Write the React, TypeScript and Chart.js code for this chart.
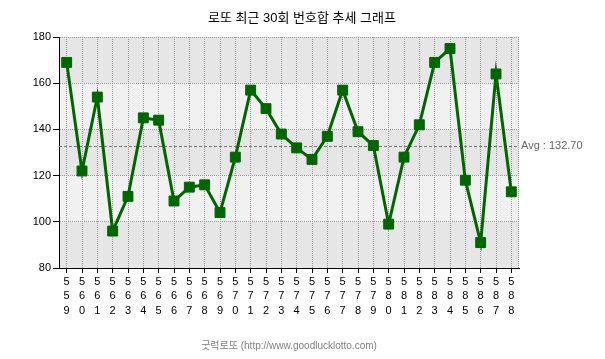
import React, { useEffect, useRef } from 'react';
import { Chart, registerables } from 'chart.js';

Chart.register(...registerables);

const TITLE = '로또 최근 30회 번호합 추세 그래프';
const FOOTER = '굿럭로또 (http://www.goodlucklotto.com)';
const AVG_PREFIX = 'Avg : ';

const rounds = [559, 560, 561, 562, 563, 564, 565, 566, 567, 568, 569, 570, 571, 572, 573, 574, 575, 576, 577, 578, 579, 580, 581, 582, 583, 584, 585, 586, 587, 588];
const sums = [169, 122, 154, 96, 111, 145, 144, 109, 115, 116, 104, 128, 157, 149, 138, 132, 127, 137, 157, 139, 133, 99, 128, 142, 169, 175, 118, 91, 164, 113];

const yMin = 80;
const yMax = 180;
const yStep = 20;

export default function App() {
  const ref = useRef<HTMLCanvasElement>(null);

  useEffect(() => {
    document.body.style.margin = '0';
    const canvas = ref.current;
    if (!canvas) return;
    const font = "'Liberation Sans', 'Noto Sans CJK KR', sans-serif";
    const avg = sums.reduce((a, b) => a + b, 0) / sums.length;
    const labels = rounds.map((r) => String(r).split(''));
    const green = '#006600';

    const deco = {
      id: 'deco',
      beforeDraw(chart: any) {
        const { ctx, chartArea: a, scales } = chart;
        const y = scales.y;
        ctx.save();
        let i = 0;
        for (let v = yMin; v < yMax; v += yStep, i++) {
          const top = y.getPixelForValue(v + yStep);
          const bot = y.getPixelForValue(v);
          ctx.fillStyle = i % 2 === 0 ? '#e6e6e6' : '#f1f1f1';
          ctx.fillRect(a.left, top, a.right - a.left, bot - top);
        }
        ctx.restore();
      },
      beforeDatasetsDraw(chart: any) {
        const { ctx, chartArea: a, scales } = chart;
        const y = scales.y;
        ctx.save();
        ctx.strokeStyle = '#999';
        ctx.lineWidth = 1;
        ctx.setLineDash([1, 1]);
        ctx.beginPath();
        ctx.moveTo(Math.round(a.right) - 0.5, a.top);
        ctx.lineTo(Math.round(a.right) - 0.5, a.bottom);
        ctx.stroke();
        const ay = Math.round(y.getPixelForValue(avg)) + 0.5;
        ctx.strokeStyle = '#777';
        ctx.setLineDash([3, 2]);
        ctx.beginPath();
        ctx.moveTo(a.left, ay);
        ctx.lineTo(a.right, ay);
        ctx.stroke();
        ctx.restore();
      },
      afterDraw(chart: any) {
        const { ctx, chartArea: a, scales } = chart;
        const y = scales.y;
        ctx.save();
        ctx.textBaseline = 'middle';
        ctx.textAlign = 'left';
        ctx.fillStyle = '#666';
        ctx.font = `11px ${font}`;
        ctx.fillText(AVG_PREFIX + avg.toFixed(2), a.right + 2, y.getPixelForValue(avg));
        ctx.textAlign = 'center';
        ctx.fillStyle = '#000';
        ctx.font = `13px ${font}`;
        ctx.fillText(TITLE, 302, 18);
        ctx.fillStyle = '#808080';
        ctx.font = `10px ${font}`;
        ctx.fillText(FOOTER, (a.left + a.right) / 2, 346);
        ctx.restore();
      },
    };

    const chart = new Chart(canvas, {
      type: 'line',
      data: {
        labels,
        datasets: [
          {
            data: sums,
            borderColor: green,
            backgroundColor: green,
            borderWidth: 3,
            tension: 0,
            pointStyle: 'rect',
            pointRadius: 7,
            pointHoverRadius: 7,
            pointBackgroundColor: green,
            pointBorderColor: green,
            pointBorderWidth: 1,
          },
        ],
      },
      options: {
        responsive: false,
        animation: false,
        events: [],
        layout: { padding: { top: 37, right: 86, left: 0, bottom: 0 } },
        plugins: {
          legend: { display: false },
          title: { display: false },
          tooltip: { enabled: false },
        },
        scales: {
          x: {
            type: 'category',
            offset: true,
            afterFit: (s: any) => {
              s.height = 91;
            },
            grid: {
              offset: false,
              color: '#999',
              lineWidth: 1,
              drawTicks: true,
              tickLength: 5,
              tickColor: '#000',
            },
            border: { display: true, color: '#000', width: 1, dash: [1, 1] },
            ticks: {
              color: '#000',
              autoSkip: false,
              maxRotation: 0,
              minRotation: 0,
              padding: 2,
              font: { family: font, size: 11, lineHeight: 1.3 },
            },
          },
          y: {
            min: yMin,
            max: yMax,
            afterFit: (s: any) => {
              s.width = 59;
            },
            grid: {
              color: '#999',
              lineWidth: 1,
              drawTicks: true,
              tickLength: 6,
              tickColor: '#000',
            },
            border: { display: true, color: '#000', width: 1, dash: [1, 1] },
            ticks: {
              stepSize: yStep,
              color: '#000',
              padding: 2,
              font: { family: font, size: 11 },
            },
          },
        },
      },
      plugins: [deco],
    } as any);

    return () => chart.destroy();
  }, []);

  return (
    <div style={{ position: 'absolute', left: 0, top: 0 }}>
      <canvas ref={ref} width={605} height={359} style={{ display: 'block' }} />
    </div>
  );
}
